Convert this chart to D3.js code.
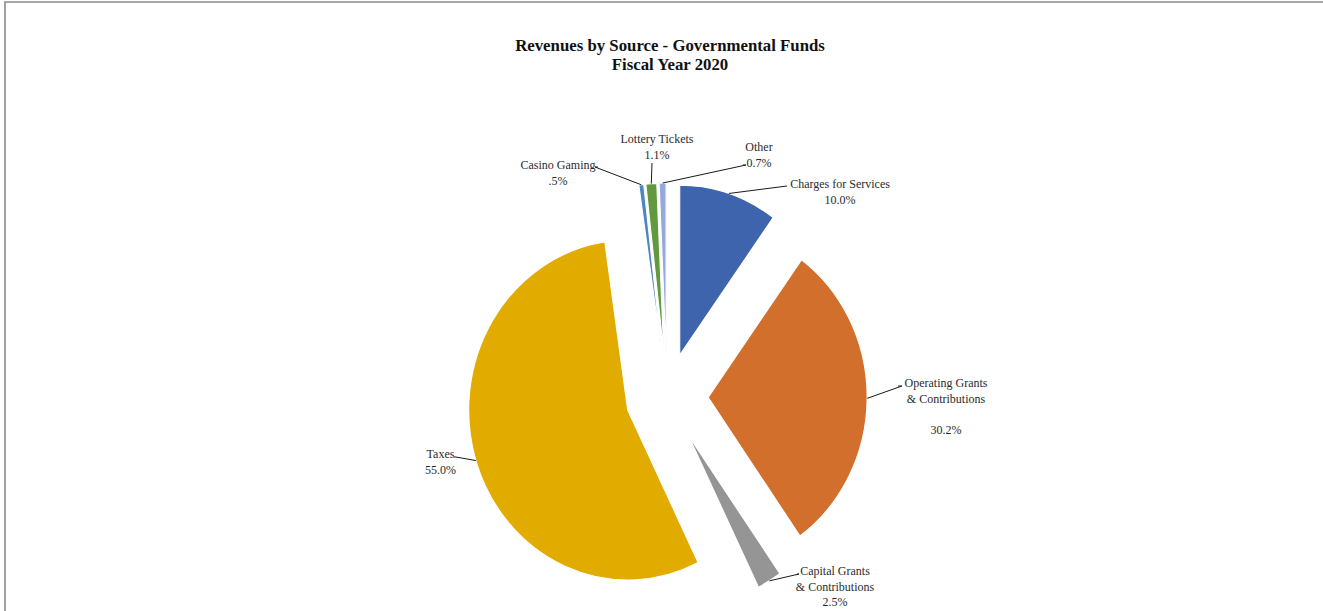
<!DOCTYPE html>
<html>
<head>
<meta charset="utf-8">
<script src="https://cdn.jsdelivr.net/npm/d3@7"></script>
<style>
html,body{margin:0;padding:0;background:#fff;}
svg{display:block;}
text{font-family:"Liberation Serif","Times New Roman",serif;}
</style>
</head>
<body>
<svg id="chart" width="1323" height="611"></svg>
<script>
// ---- data ----
const categories = ["Charges for Services","Operating Grants & Contributions","Capital Grants & Contributions","Taxes","Casino Gaming","Lottery Tickets","Other"];
const values = [10.0, 30.2, 2.5, 55.0, 0.5, 1.1, 0.7];
const valueLabels = ["10.0%","30.2%","2.5%","55.0%",".5%","1.1%","0.7%"];
const nameLines = [["Charges for Services"],["Operating Grants","& Contributions",""],["Capital Grants","& Contributions"],["Taxes"],["Casino Gaming"],["Lottery Tickets"],["Other"]];
const colors = ["#3D64AC","#D36F2C","#959595","#E2AB00","#4B87C2","#62993E","#93A9DA"];
const titleLines = ["Revenues by Source - Governmental Funds","Fiscal Year 2020"];

// ---- layout (not data) ----
const W = 1323, H = 611;
const cx = 667, cy = 397;     // pie centre
const R = 170;                // vertical radius
const xScale = 159/170;       // pie is slightly squashed horizontally
const explode = 44;
// label anchor (x centre, first baseline) and leader start point(s)
const labelLayout = [
  {x:840, y:188, lead:[[787,186]]},
  {x:946, y:387, lead:[[902,386],[898,386]]},
  {x:835, y:575, lead:[[799,574],[797,574]]},
  {x:440.5, y:458, lead:[[456,457],[454,457]]},
  {x:558, y:169, lead:[[595,167],[598,167]]},
  {x:657, y:143, lead:[[652,163]]},
  {x:759, y:151, lead:[[746,165],[743,165]]}
];
const lineH = 15.5;

const svg = d3.select("#chart");

// frame
svg.append("path")
  .attr("d", `M5,${H+5} L5,2 L${W+5},2`)
  .attr("fill","none").attr("stroke","#8a8a8a").attr("stroke-width",1.6);

// title
svg.append("text")
  .attr("x", 670).attr("y", 51)
  .attr("text-anchor","middle")
  .attr("font-size", 16.8).attr("font-weight","bold").attr("fill","#111")
  .selectAll("tspan").data(titleLines).join("tspan")
  .attr("x", 670).attr("dy", (d,i)=> i===0 ? 0 : 19)
  .text(d=>d);

const pie = d3.pie().sort(null).value(d=>d).startAngle(0).endAngle(2*Math.PI);
const arcs = pie(values);
const arc = d3.arc().innerRadius(0).outerRadius(R);

function offsetOf(a){
  const m = (a.startAngle + a.endAngle)/2;
  return [explode*Math.sin(m), -explode*Math.cos(m)];
}
function toScreen(px, py){ return [cx + xScale*px, cy + py]; }

const g = svg.append("g")
  .attr("transform", `translate(${cx},${cy}) scale(${xScale},1)`);

g.selectAll("path.slice").data(arcs).join("path")
  .attr("class","slice")
  .attr("transform", d=>{ const o = offsetOf(d); return `translate(${o[0]},${o[1]})`; })
  .attr("d", arc)
  .attr("fill", (d,i)=>colors[i])
  .attr("stroke","#fff").attr("stroke-width",1.2)
  .attr("stroke-linejoin","round");

// leader lines
arcs.forEach((a,i)=>{
  const o = offsetOf(a);
  const m = (a.startAngle + a.endAngle)/2;
  const end = toScreen(o[0] + R*Math.sin(m), o[1] - R*Math.cos(m));
  const pts = labelLayout[i].lead.slice().reverse().concat([end]);
  svg.append("path")
    .attr("d", d3.line()(pts))
    .attr("fill","none").attr("stroke","#1a1a1a").attr("stroke-width",1);
});

// labels
arcs.forEach((a,i)=>{
  const L = labelLayout[i];
  const lines = nameLines[i].concat([valueLabels[i]]);
  const t = svg.append("text")
    .attr("text-anchor","middle")
    .attr("font-size",12).attr("fill","#2b2b2b");
  lines.forEach((s,k)=>{
    t.append("tspan").attr("x",L.x).attr("y",L.y + k*lineH).text(s);
  });
});
</script>
</body>
</html>
